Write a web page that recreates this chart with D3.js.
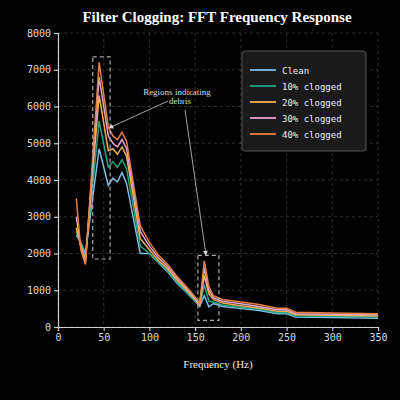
<!DOCTYPE html>
<html>
<head>
<meta charset="utf-8">
<script src="https://cdn.jsdelivr.net/npm/d3@7"></script>
<style>
  body { margin: 0; background: #000; }
  svg { display: block; }
</style>
</head>
<body>
<div id="chart"></div>
<script>
// Data
const freqs = [20, 25, 30, 45, 55, 60, 65, 70, 75, 90, 100, 110, 120, 130, 140, 150, 155, 160, 165, 170, 180, 200, 220, 240, 250, 260, 300, 350];
const seriesNames = ["Clean", "10% clogged", "20% clogged", "30% clogged", "40% clogged"];
const seriesColors = ["#7dbde6", "#22a884", "#f2b155", "#e7a3d3", "#e8803f"];
const clean = [2500, 2300, 2000, 4850, 3850, 4050, 3950, 4200, 3900, 2000, 2000, 1750, 1500, 1200, 950, 700, 560, 850, 550, 640, 560, 500, 450, 360, 360, 270, 260, 240];
const clog10 = [2600, 2250, 1900, 5600, 4350, 4500, 4350, 4550, 4300, 2200, 2000, 1750, 1520, 1230, 980, 720, 580, 1150, 700, 680, 600, 540, 480, 390, 390, 300, 290, 270];
const clog20 = [2700, 2200, 1850, 6300, 4800, 4850, 4700, 4900, 4650, 2400, 2100, 1800, 1580, 1280, 1020, 750, 600, 1400, 900, 750, 650, 580, 520, 430, 430, 330, 320, 300];
const clog30 = [3000, 2150, 1750, 6800, 5200, 5000, 4900, 5100, 4850, 2600, 2200, 1880, 1640, 1330, 1070, 790, 620, 1600, 1000, 800, 700, 630, 560, 470, 470, 360, 350, 330];
const clog40 = [3500, 2100, 1700, 7200, 5450, 5200, 5100, 5300, 5050, 2750, 2300, 1950, 1700, 1380, 1110, 820, 640, 1800, 1100, 850, 750, 680, 610, 510, 510, 400, 380, 360];
const allSeries = [clean, clog10, clog20, clog30, clog40];
const xTicks = [0, 50, 100, 150, 200, 250, 300, 350];
const yTicks = [0, 1000, 2000, 3000, 4000, 5000, 6000, 7000, 8000];

const W = 400, H = 400;
const margin = { top: 33, right: 22, bottom: 73, left: 58 };
const width = W - margin.left - margin.right;
const height = H - margin.top - margin.bottom;

const root = d3.select("#chart").append("svg")
  .attr("width", W).attr("height", H)
  .style("background", "#000");

const svg = root.append("g")
  .attr("transform", `translate(${margin.left},${margin.top})`);

const x = d3.scaleLinear().domain([0, 350]).range([0, width]);
const y = d3.scaleLinear().domain([0, 8000]).range([height, 0]);

// Grid
svg.append("g").selectAll("line").data(xTicks).enter().append("line")
  .attr("x1", d => x(d)).attr("x2", d => x(d))
  .attr("y1", 0).attr("y2", height)
  .attr("stroke", "#444").attr("stroke-dasharray", "3,3").attr("stroke-width", 0.7);
svg.append("g").selectAll("line").data(yTicks).enter().append("line")
  .attr("x1", 0).attr("x2", width)
  .attr("y1", d => y(d)).attr("y2", d => y(d))
  .attr("stroke", "#444").attr("stroke-dasharray", "3,3").attr("stroke-width", 0.7);

// Axes
const xAxis = svg.append("g")
  .attr("transform", `translate(0,${height})`)
  .call(d3.axisBottom(x).tickValues(xTicks).tickSize(4).tickFormat(d3.format("d")));
const yAxis = svg.append("g")
  .call(d3.axisLeft(y).tickValues(yTicks).tickSize(4).tickFormat(d3.format("d")));
[xAxis, yAxis].forEach(a => {
  a.selectAll("path, line").attr("stroke", "#ccc").attr("stroke-width", 1.2);
  a.selectAll("text").attr("fill", "#ddd")
    .style("font-family", "DejaVu Sans Mono").style("font-size", "10px");
});

// Lines
const line = d3.line()
  .x((d, i) => x(freqs[i]))
  .y(d => y(d));

allSeries.forEach((vals, i) => {
  svg.append("path")
    .datum(vals)
    .attr("fill", "none")
    .attr("stroke", seriesColors[i])
    .attr("stroke-width", 1.5)
    .attr("d", line);
});

// Dashed highlight boxes
const boxes = [[38, 57, 7350, 1850], [153, 176, 1950, 180]];
boxes.forEach(b => {
  svg.append("rect")
    .attr("x", x(b[0])).attr("y", y(b[2]))
    .attr("width", x(b[1]) - x(b[0]))
    .attr("height", y(b[3]) - y(b[2]))
    .attr("fill", "none").attr("stroke", "#aaa")
    .attr("stroke-width", 1.2).attr("stroke-dasharray", "4,3");
});

// Annotation
root.append("defs").append("marker")
  .attr("id", "arr").attr("viewBox", "0 0 10 10")
  .attr("refX", 9).attr("refY", 5)
  .attr("markerWidth", 6).attr("markerHeight", 6)
  .attr("orient", "auto")
  .append("path").attr("d", "M0,0 L10,5 L0,10 z").attr("fill", "#ddd");

root.append("line")
  .attr("x1", 168).attr("y1", 101).attr("x2", 109).attr("y2", 128)
  .attr("stroke", "#ccc").attr("stroke-width", 0.8).attr("marker-end", "url(#arr)");
root.append("line")
  .attr("x1", 185).attr("y1", 110).attr("x2", 206).attr("y2", 255)
  .attr("stroke", "#ccc").attr("stroke-width", 0.8).attr("marker-end", "url(#arr)");

const ann = root.append("text")
  .attr("text-anchor", "middle").attr("fill", "#ddd")
  .style("font-family", "Liberation Serif").style("font-size", "9px");
ann.append("tspan").attr("x", 177).attr("y", 95).text("Regions indicating");
ann.append("tspan").attr("x", 180).attr("y", 104).text("debris");

// Legend
const legend = root.append("g").attr("transform", "translate(242,51)");
legend.append("rect")
  .attr("width", 124).attr("height", 100).attr("rx", 3)
  .attr("fill", "#1a1a1a").attr("stroke", "#555").attr("stroke-width", 1);
seriesNames.forEach((name, i) => {
  const row = legend.append("g").attr("transform", `translate(0,${19 + i * 16})`);
  row.append("line")
    .attr("x1", 8).attr("x2", 34).attr("stroke", seriesColors[i]).attr("stroke-width", 1.8);
  row.append("text")
    .attr("x", 40).attr("y", 4).attr("fill", "#eee")
    .style("font-family", "DejaVu Sans Mono").style("font-size", "9px")
    .text(name);
});

// Title and axis label
root.append("text")
  .attr("x", 217).attr("y", 22).attr("text-anchor", "middle")
  .attr("fill", "#fff").style("font-family", "Liberation Serif")
  .style("font-weight", "bold").style("font-size", "15px")
  .text("Filter Clogging: FFT Frequency Response");
root.append("text")
  .attr("x", margin.left + width / 2).attr("y", 368).attr("text-anchor", "middle")
  .attr("fill", "#eee").style("font-family", "Liberation Serif").style("font-size", "11px")
  .text("Frequency (Hz)");
</script>
</body>
</html>
